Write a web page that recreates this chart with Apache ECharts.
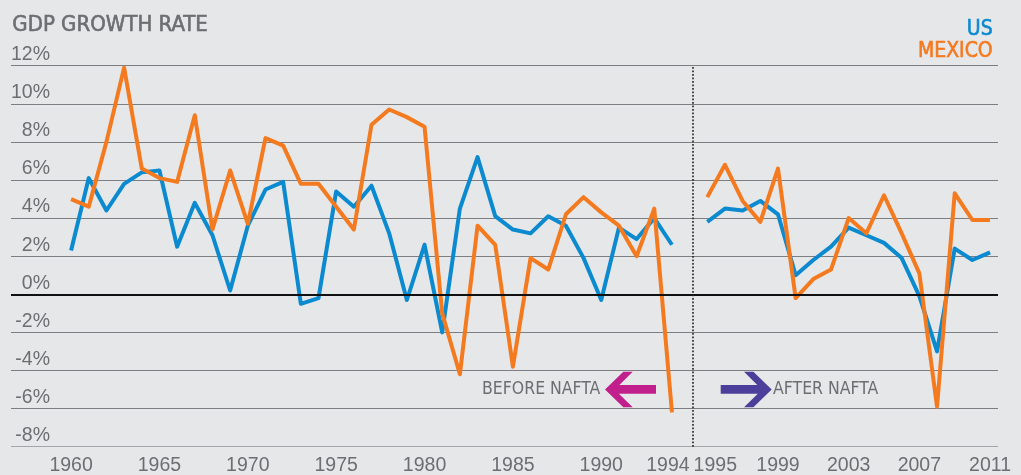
<!DOCTYPE html>
<html>
<head>
<meta charset="utf-8">
<script src="https://cdn.jsdelivr.net/npm/echarts@6/dist/echarts.min.js"></script>
<style>
  html, body { margin: 0; padding: 0; background: #e6e7e8; }
  #chart { width: 1021px; height: 475px; }
</style>
</head>
<body>
<div id="chart"></div>
<script>
// years on the axis; '' is the empty slot at the NAFTA divide
const years = [
  '1960', '1961', '1962', '1963', '1964', '1965', '1966', '1967', '1968', '1969',
  '1970', '1971', '1972', '1973', '1974', '1975', '1976', '1977', '1978', '1979',
  '1980', '1981', '1982', '1983', '1984', '1985', '1986', '1987', '1988', '1989',
  '1990', '1991', '1992', '1993', '1994', '',
  '1995', '1996', '1997', '1998', '1999', '2000', '2001', '2002', '2003', '2004',
  '2005', '2006', '2007', '2008', '2009', '2010', '2011'
]
const usGrowth = [
  2.3, 6.1, 4.4, 5.8, 6.4, 6.5, 2.5, 4.8, 3.1, 0.2,
  3.6, 5.5, 5.9, -0.5, -0.2, 5.4, 4.6, 5.7, 3.2, -0.3,
  2.6, -2.0, 4.5, 7.2, 4.1, 3.4, 3.2, 4.1, 3.6, 1.9,
  -0.3, 3.5, 2.9, 4.0, 2.6, null,
  3.8, 4.5, 4.4, 4.9, 4.2, 1.0, 1.8, 2.5, 3.5, 3.1,
  2.7, 1.9, -0.1, -3.0, 2.4, 1.8, 2.2
]
const mexicoGrowth = [
  5.0, 4.6, 8.0, 11.9, 6.6, 6.1, 5.9, 9.4, 3.4, 6.5,
  3.7, 8.2, 7.8, 5.8, 5.8, 4.6, 3.4, 8.9, 9.7, 9.3,
  8.8, -1.0, -4.2, 3.6, 2.6, -3.8, 1.9, 1.3, 4.2, 5.1,
  4.3, 3.6, 2.0, 4.5, -6.2, null,
  5.1, 6.8, 4.9, 3.8, 6.6, -0.2, 0.8, 1.3, 4.0, 3.2,
  5.2, 3.2, 1.1, -5.9, 5.3, 3.9, 3.9
]
const tickYears = ['1960', '1965', '1970', '1975', '1980', '1985', '1990', '1994',
  '1995', '1999', '2003', '2007', '2011']

const GRAY = '#6d6e71'
const BLUE = '#0b8ad0'
const ORANGE = '#f47a20'
const NARROW = "'Liberation Sans Narrow', 'DejaVu Sans Condensed', 'Liberation Sans', sans-serif"
const SANS = "'Liberation Sans', Arial, sans-serif"

const gapIdx = years.indexOf('')
const toPairs = (arr) => arr.map((v, i) => [i, v])

const chart = echarts.init(document.getElementById('chart'), null, { renderer: 'canvas' })

chart.setOption({
  backgroundColor: '#e6e7e8',
  animation: false,
  grid: { left: 11, right: 23, top: 65.7, bottom: 28.3, containLabel: false, outerBoundsMode: 'none' },
  xAxis: {
    type: 'value',
    min: -3.4,
    max: 52.45,
    axisLine: { show: false },
    axisTick: { show: false },
    splitLine: { show: false },
    axisLabel: {
      customValues: tickYears.map((y) => years.indexOf(y)),
      margin: 9,
      color: GRAY,
      fontSize: 19.5,
      fontFamily: SANS,
      formatter: (v) => {
        const y = years[Math.round(v)]
        // nudge the two labels at the divide apart, like the original
        if (y === '1994') return '{l|' + y + '}'
        if (y === '1995') return '{r|' + y + '}'
        return y
      },
      rich: {
        l: { padding: [0, 8, 0, 0], color: GRAY, fontSize: 19.5, fontFamily: SANS },
        r: { padding: [0, 0, 0, 16], color: GRAY, fontSize: 19.5, fontFamily: SANS }
      }
    }
  },
  yAxis: {
    type: 'value',
    min: -8,
    max: 12,
    interval: 2,
    axisLine: { show: false },
    axisTick: { show: false },
    splitLine: {
      lineStyle: {
        color: ['#a4a5a8', '#7d7e81', '#7d7e81', '#7d7e81', '#7d7e81', '#7d7e81',
          '#7d7e81', '#7d7e81', '#7d7e81', '#7d7e81', '#7d7e81'],
        width: 1.2
      }
    },
    axisLabel: {
      inside: true,
      margin: 39,
      align: 'right',
      verticalAlign: 'bottom',
      padding: [0, 0, 1, 0],
      formatter: '{value}%',
      color: GRAY,
      fontSize: 19.5,
      fontFamily: SANS
    }
  },
  series: [
    {
      name: 'US',
      type: 'line',
      data: toPairs(usGrowth),
      showSymbol: false,
      connectNulls: false,
      lineStyle: { color: BLUE, width: 4, join: 'round' },
      markLine: {
        silent: true,
        symbol: 'none',
        label: { show: false },
        data: [
          { yAxis: 0, lineStyle: { color: '#111', width: 2, type: 'solid' } },
          { xAxis: gapIdx + 0.2, lineStyle: { color: '#222', width: 1.6, type: [1.6, 1.9] } }
        ]
      },
      z: 3
    },
    {
      name: 'MEXICO',
      type: 'line',
      data: toPairs(mexicoGrowth),
      showSymbol: false,
      connectNulls: false,
      lineStyle: { color: ORANGE, width: 4, join: 'round' },
      z: 4
    }
  ],
  graphic: [
    // heading + legend drawn with a thin stroke to get the semi-bold look
    { type: 'text', left: 12, top: 14, style: { text: 'GDP GROWTH RATE', fill: GRAY, stroke: GRAY, lineWidth: 0.6, font: "22px " + NARROW } },
    { type: 'text', right: 28, top: 19, style: { text: 'US', fill: BLUE, stroke: BLUE, lineWidth: 0.6, font: "21px " + NARROW, align: 'right' } },
    { type: 'text', right: 28, top: 41, style: { text: 'MEXICO', fill: ORANGE, stroke: ORANGE, lineWidth: 0.6, font: "21px " + NARROW, align: 'right' } },
    { type: 'text', left: 482, top: 380, style: { text: 'BEFORE NAFTA', fill: GRAY, font: "17.5px " + NARROW } },
    { type: 'text', left: 773, top: 380, style: { text: 'AFTER NAFTA', fill: GRAY, font: "17.5px " + NARROW } },
    {
      type: 'polygon',
      shape: { points: [[605, 389.5], [623.3, 371.7], [632.7, 371.7], [619.4, 385], [656, 385],
        [656, 393.8], [618.9, 393.8], [632.7, 407.3], [623.3, 407.3]] },
      style: { fill: '#c1208c' }
    },
    {
      type: 'polygon',
      shape: { points: [[771.7, 389.5], [753.4, 371.7], [744, 371.7], [757.3, 385], [720.7, 385],
        [720.7, 393.8], [757.8, 393.8], [744, 407.3], [753.4, 407.3]] },
      style: { fill: '#4c3f9c' }
    }
  ]
})
</script>
</body>
</html>
